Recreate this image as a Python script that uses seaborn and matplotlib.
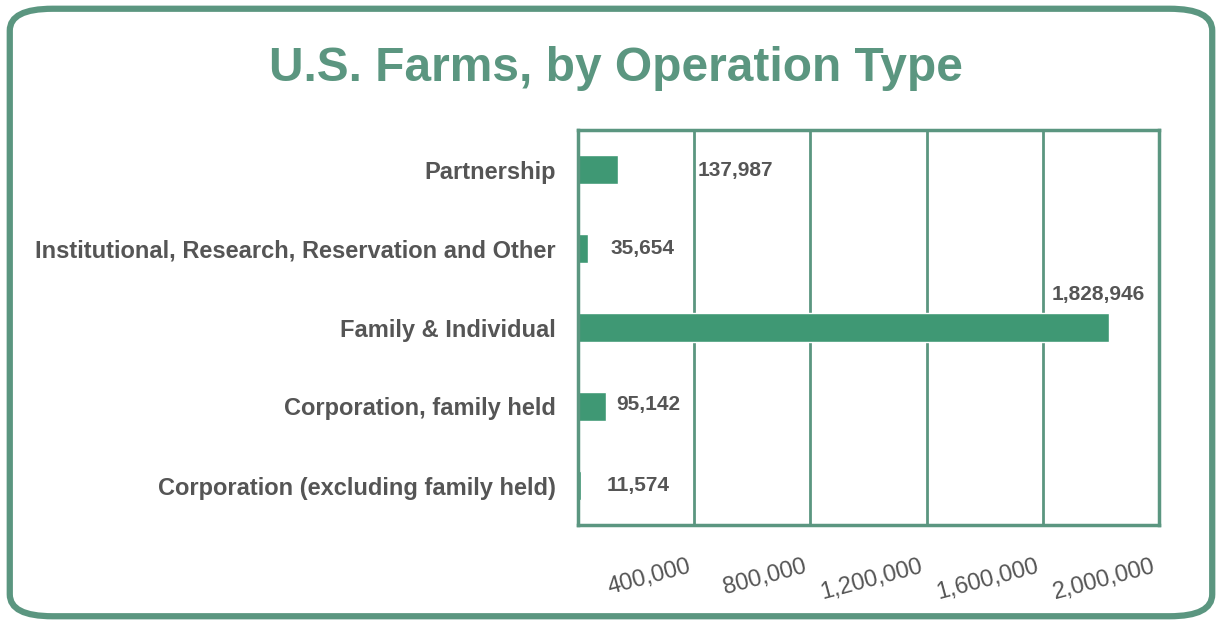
import matplotlib
matplotlib.use("Agg")
import matplotlib.pyplot as plt
import matplotlib.transforms as mtransforms
from matplotlib.patches import FancyBboxPatch
import seaborn as sns
import pandas as pd

operation_types = [
    "Partnership",
    "Institutional, Research, Reservation and Other",
    "Family & Individual",
    "Corporation, family held",
    "Corporation (excluding family held)",
]
farm_counts = [137987, 35654, 1828946, 95142, 11574]
x_ticks = [0, 400000, 800000, 1200000, 1600000, 2000000]
x_tick_labels = ["", "400,000", "800,000", "1,200,000", "1,600,000", "2,000,000"]

# where each value label sits relative to the end of its bar (pixels)
label_offsets = [(80, -1), (22, 0), (-58, 33), (11, 2), (25, 0)]

line_green = "#5b9680"
bar_green = "#3f9874"
text_gray = "#555555"

sns.set_theme(style="white")
plt.rcParams["font.family"] = ["Liberation Sans", "DejaVu Sans"]

df = pd.DataFrame({"type": operation_types, "farms": farm_counts})

fig = plt.figure(figsize=(12.22, 6.25), dpi=100)
ax = fig.add_axes([0.473, 0.16, 0.4755, 0.632])

sns.barplot(data=df, x="farms", y="type", orient="h", color=bar_green,
            saturation=1, width=0.36, ax=ax)

ax.set_xlim(0, 2000000)
ax.set_xticks(x_ticks)
ax.set_xticklabels(x_tick_labels, rotation=15, ha="right", rotation_mode="anchor",
                   fontsize=17, color=text_gray)
ax.tick_params(axis="x", length=0, pad=22)
ax.tick_params(axis="y", length=0, pad=16)
# nudge rotated tick labels a little to the left
shift = mtransforms.ScaledTranslation(-7 / 100, 0, fig.dpi_scale_trans)
for lbl in ax.get_xticklabels():
    lbl.set_transform(lbl.get_transform() + shift)
for lbl in ax.get_yticklabels():
    lbl.set_fontsize(17)
    lbl.set_fontweight("bold")
    lbl.set_color(text_gray)
ax.set_xlabel("")
ax.set_ylabel("")

for x in x_ticks[1:-1]:
    ax.axvline(x, color=line_green, lw=2, zorder=0)
for s in ax.spines.values():
    s.set_visible(True)
    s.set_color(line_green)
    s.set_linewidth(2.5)

for i, (val, off) in enumerate(zip(farm_counts, label_offsets)):
    ax.annotate(f"{val:,}", xy=(val, i), xytext=off, textcoords="offset pixels",
                ha="left", va="center", fontsize=15, fontweight="bold",
                color=text_gray)

fig.text(0.504, 0.89, "U.S. Farms, by Operation Type", ha="center", va="center",
         fontsize=34.5, fontweight="bold", color=line_green)

border = FancyBboxPatch((0.008, 0.014), 0.984, 0.972,
                        boxstyle="round,pad=0,rounding_size=0.035",
                        transform=fig.transFigure, fill=False,
                        edgecolor=line_green, lw=4.5)
fig.patches.append(border)

fig.savefig("out.png", dpi=100, facecolor="white")
